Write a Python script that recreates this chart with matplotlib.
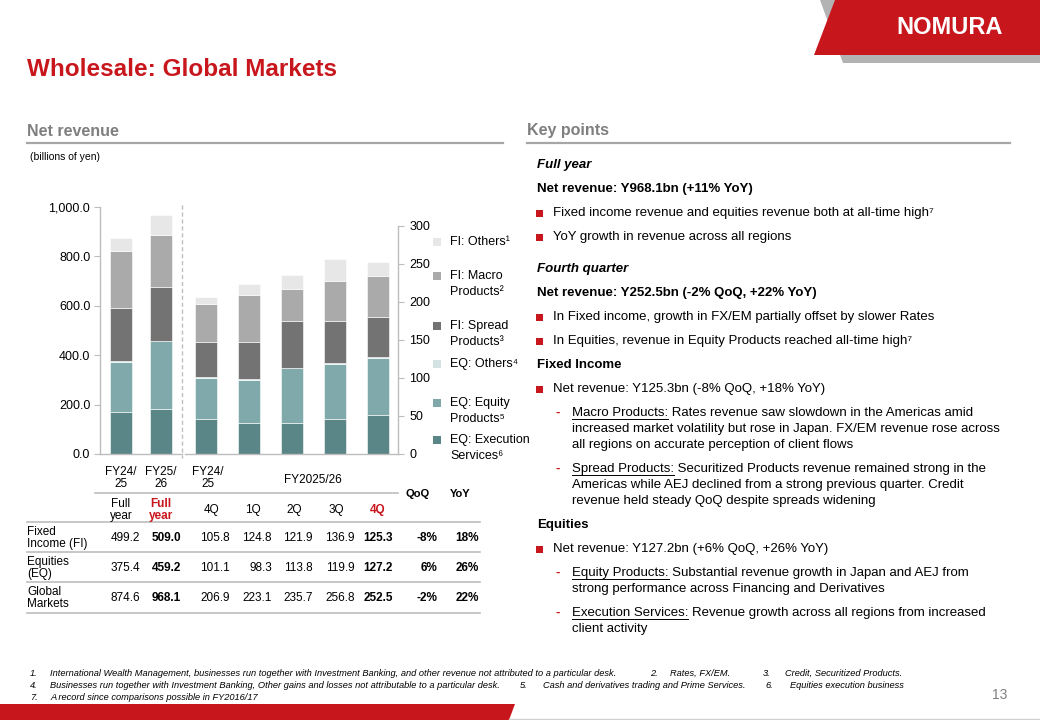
import matplotlib
matplotlib.use("Agg")
import matplotlib.pyplot as plt
from matplotlib.patches import Polygon, Rectangle
import numpy as np

plt.rcParams['font.family'] = ['Liberation Sans', 'DejaVu Sans']

# ---------------- data ----------------
fy_labels = ["FY24/25 Full year", "FY25/26 Full year"]
fy_eq_exec = [172.0, 182.0]
fy_eq_prod = [200.0, 274.0]
fy_eq_oth = [3.4, 3.2]
fy_fi_spread = [216.0, 217.0]
fy_fi_macro = [229.0, 209.0]
fy_fi_oth = [54.2, 83.0]

q_labels = ["4Q FY24/25", "1Q", "2Q", "3Q", "4Q"]
q_eq_exec = [46.0, 41.0, 41.0, 46.0, 51.0]
q_eq_prod = [54.0, 57.0, 72.0, 73.0, 75.0]
q_eq_oth = [1.1, 0.3, 0.8, 0.9, 1.2]
q_fi_spread = [46.0, 49.5, 60.8, 55.5, 52.6]
q_fi_macro = [50.0, 62.0, 43.0, 52.0, 54.0]
q_fi_oth = [9.8, 13.3, 18.1, 29.4, 18.7]

series_names = ["EQ: Execution\nServices⁶", "EQ: Equity\nProducts⁵", "EQ: Others⁴",
                "FI: Spread\nProducts³", "FI: Macro\nProducts²", "FI: Others¹"]
series_colors = ["#5b8688", "#80a9ab", "#d3e2e3", "#737373", "#aaaaaa", "#e7e7e7"]

left_ticks = [0, 200, 400, 600, 800, 1000]
right_ticks = [0, 50, 100, 150, 200, 250, 300]

table_rows = ["Fixed\nIncome (FI)", "Equities\n(EQ)", "Global\nMarkets"]
fi_vals = [499.2, 509.0, 105.8, 124.8, 121.9, 136.9, 125.3]
eq_vals = [375.4, 459.2, 101.1, 98.3, 113.8, 119.9, 127.2]
gm_vals = [874.6, 968.1, 206.9, 223.1, 235.7, 256.8, 252.5]
qoq = ["-8%", "6%", "-2%"]
yoy = ["18%", "26%", "22%"]

RED = "#c8161d"
GRAY_TXT = "#7f7f7f"
LINE = "#bdbdbd"

W, H = 1040, 720
fig = plt.figure(figsize=(W / 100, H / 100), dpi=100)

# overlay in pixel coordinates
ov = fig.add_axes([0, 0, 1, 1], zorder=0)
ov.set_xlim(0, W)
ov.set_ylim(H, 0)
ov.axis("off")


def T(x, y, s, **kw):
    kw.setdefault("fontsize", 9)
    kw.setdefault("va", "center")
    kw.setdefault("color", "#000000")
    return ov.text(x, y, s, **kw)


# ---------- header graphics ----------
ov.add_patch(Polygon([(820, 0), (W, 0), (W, 63), (843, 63)], closed=True, color="#b3b3b3", lw=0))
ov.add_patch(Polygon([(835, 0), (W, 0), (W, 55), (814, 55)], closed=True, color=RED, lw=0))
T(950, 28, "NOMURA", fontsize=17, fontweight="bold", color="white", ha="center")

T(27, 69, "Wholesale: Global Markets", fontsize=17.5, fontweight="bold", color=RED)

T(27, 131, "Net revenue", fontsize=11.5, fontweight="bold", color=GRAY_TXT)
ov.plot([27, 503], [143, 143], color="#a6a6a6", lw=1.6)
T(527, 131, "Key points", fontsize=11.5, fontweight="bold", color=GRAY_TXT)
ov.plot([527, 1010], [143, 143], color="#a6a6a6", lw=1.6)
T(30, 157, "(billions of yen)", fontsize=7.5)

# bottom bar
ov.add_patch(Polygon([(0, 704), (515, 704), (509, 720), (0, 720)], closed=True, color=RED, lw=0))
ov.plot([509, W], [719, 719], color="#d0d0d0", lw=1)
T(1000, 695, "13", fontsize=10, color=GRAY_TXT, ha="center")

# ---------- charts ----------
ax1 = fig.add_axes([100 / W, 1 - 454 / H, 82 / W, (454 - 207) / H], zorder=2)
ax2 = fig.add_axes([185 / W, 1 - 454 / H, 213 / W, (454 - 226) / H], zorder=2)

fy_series = [fy_eq_exec, fy_eq_prod, fy_eq_oth, fy_fi_spread, fy_fi_macro, fy_fi_oth]
q_series = [q_eq_exec, q_eq_prod, q_eq_oth, q_fi_spread, q_fi_macro, q_fi_oth]

xf = np.arange(len(fy_labels))
bottom = np.zeros(len(fy_labels))
for vals, c in zip(fy_series, series_colors):
    ax1.bar(xf, vals, 0.55, bottom=bottom, color=c, edgecolor="white", linewidth=0.4)
    bottom += np.array(vals)
ax1.set_xlim(-0.525, 1.525)
ax1.set_ylim(0, 1000)

xq = np.arange(len(q_labels))
bottom = np.zeros(len(q_labels))
for vals, c in zip(q_series, series_colors):
    ax2.bar(xq, vals, 0.51, bottom=bottom, color=c, edgecolor="white", linewidth=0.4)
    bottom += np.array(vals)
ax2.set_xlim(-21 / 43, 192 / 43)
ax2.set_ylim(0, 300)

for ax in (ax1, ax2):
    ax.set_facecolor("none")
    ax.set_xticks([])
    for s in ax.spines.values():
        s.set_color(LINE)
        s.set_linewidth(1)
    ax.spines["top"].set_visible(False)

ax1.spines["right"].set_visible(False)
ax1.set_yticks(left_ticks)
ax1.set_yticklabels([f"{v:,.1f}" for v in left_ticks])
ax1.tick_params(axis="y", length=4, color=LINE, labelsize=9, pad=3)

ax2.spines["left"].set_visible(False)
ax2.yaxis.tick_right()
ax2.set_yticks(right_ticks)
ax2.set_yticklabels([f"{v}" for v in right_ticks])
ax2.tick_params(axis="y", length=4, color=LINE, labelsize=9, pad=4)

# dashed separator
ov.plot([182, 182], [205, 458], color="#bfbfbf", lw=1, ls=(0, (3, 2)))

# legend (square aligned with first text line)
leg_y = [440, 403, 364, 326, 276, 242]
for name, c, y in zip(series_names, series_colors, leg_y):
    ov.add_patch(Rectangle((433, y - 4), 8, 8, color=c, lw=0))
    for i, ln in enumerate(name.split("\n")):
        T(450, y + i * 16, ln, fontsize=9)

# ---------- table ----------
T(121, 478, "FY24/\n25", ha="center", fontsize=8.5, linespacing=1.05)
T(161, 478, "FY25/\n26", ha="center", fontsize=8.5, linespacing=1.05)
T(208, 478, "FY24/\n25", ha="center", fontsize=8.5, linespacing=1.05)
T(313, 480, "FY2025/26", ha="center", fontsize=8.5)
ov.plot([95, 398], [493, 493], color=LINE, lw=1.2)
T(121, 510, "Full\nyear", ha="center", fontsize=8.5, linespacing=1.05)
T(161, 510, "Full\nyear", ha="center", fontsize=8.5, linespacing=1.05, color=RED, fontweight="bold")
q_head_x = [211, 253, 294, 336, 378]
for lbl, x in zip(["4Q", "1Q", "2Q", "3Q", "4Q"], q_head_x):
    bold = x == q_head_x[-1]
    T(x, 510, lbl, ha="center", fontsize=8.5,
      color=RED if bold else "#000000", fontweight="bold" if bold else "normal")
T(418, 494, "QoQ", ha="center", fontsize=8, fontweight="bold")
T(460, 494, "YoY", ha="center", fontsize=8, fontweight="bold")

col_right = [140, 181, 230, 272, 313, 355, 393]
row_y = [538, 568, 598]
for y in [522, 552, 582, 613]:
    ov.plot([27, 480], [y, y], color=LINE, lw=1.2)
for r, (lab, vals, q, yy) in enumerate(zip(table_rows, [fi_vals, eq_vals, gm_vals], qoq, yoy)):
    y = row_y[r]
    T(27, y, lab, ha="left", fontsize=8.5, linespacing=1.05)
    for j, (v, xr) in enumerate(zip(vals, col_right)):
        bold = j in (1, 6)
        T(xr, y, f"{v:.1f}", ha="right", fontsize=8.5, fontweight="bold" if bold else "normal")
    T(437, y, q, ha="right", fontsize=8.5, fontweight="bold")
    T(479, y, yy, ha="right", fontsize=8.5, fontweight="bold")

# ---------- key points ----------
KP = 9.5
fig.canvas.draw()
renderer = fig.canvas.get_renderer()


def bullet(y, s):
    ov.add_patch(Rectangle((536, y - 3.5), 7, 7, color=RED, lw=0))
    T(553, y, s, fontsize=KP)


def dash(y, lines, ul):
    T(555, y, "-", fontsize=KP, color=RED, fontweight="bold")
    for i, ln in enumerate(lines):
        T(572, y + i * 16, ln, fontsize=KP)
    t = T(572, y, ul, fontsize=KP, alpha=0)
    bb = t.get_window_extent(renderer)
    ov.plot([572, 572 + bb.width], [y + 5.5, y + 5.5], color="#000000", lw=0.7)


T(537, 165, "Full year", fontsize=KP, fontweight="bold", style="italic")
T(537, 189, "Net revenue: Y968.1bn (+11% YoY)", fontsize=KP, fontweight="bold")
bullet(213, "Fixed income revenue and equities revenue both at all-time high⁷")
bullet(237, "YoY growth in revenue across all regions")
T(537, 269, "Fourth quarter", fontsize=KP, fontweight="bold", style="italic")
T(537, 293, "Net revenue: Y252.5bn (-2% QoQ, +22% YoY)", fontsize=KP, fontweight="bold")
bullet(317, "In Fixed income, growth in FX/EM partially offset by slower Rates")
bullet(341, "In Equities, revenue in Equity Products reached all-time high⁷")
T(537, 365, "Fixed Income", fontsize=KP, fontweight="bold")
bullet(389, "Net revenue: Y125.3bn (-8% QoQ, +18% YoY)")
dash(413, ["Macro Products: Rates revenue saw slowdown in the Americas amid",
           "increased market volatility but rose in Japan. FX/EM revenue rose across",
           "all regions on accurate perception of client flows"], "Macro Products:")
dash(469, ["Spread Products: Securitized Products revenue remained strong in the",
           "Americas while AEJ declined from a strong previous quarter. Credit",
           "revenue held steady QoQ despite spreads widening"], "Spread Products:")
T(537, 525, "Equities", fontsize=KP, fontweight="bold")
bullet(549, "Net revenue: Y127.2bn (+6% QoQ, +26% YoY)")
dash(573, ["Equity Products: Substantial revenue growth in Japan and AEJ from",
           "strong performance across Financing and Derivatives"], "Equity Products:")
dash(613, ["Execution Services: Revenue growth across all regions from increased",
           "client activity"], "Execution Services:")

# ---------- footnotes ----------
FN = dict(fontsize=6.7, style="italic")
T(30, 673, "1.", **FN)
T(50, 673, "International Wealth Management, businesses run together with Investment Banking, and other revenue not attributed to a particular desk.", **FN)
T(650, 673, "2.", **FN)
T(670, 673, "Rates, FX/EM.", **FN)
T(763, 673, "3.", **FN)
T(785, 673, "Credit, Securitized Products.", **FN)
T(30, 686, "4.", **FN)
T(50, 686, "Businesses run together with Investment Banking, Other gains and losses not attributable to a particular desk.", **FN)
T(520, 686, "5.", **FN)
T(543, 686, "Cash and derivatives trading and Prime Services.", **FN)
T(765, 686, "6.", **FN)
T(790, 686, "Equities execution business", **FN)
T(30, 698, "7.", **FN)
T(50, 698, "A record since comparisons possible in FY2016/17", **FN)

fig.savefig("out.png", dpi=100)
